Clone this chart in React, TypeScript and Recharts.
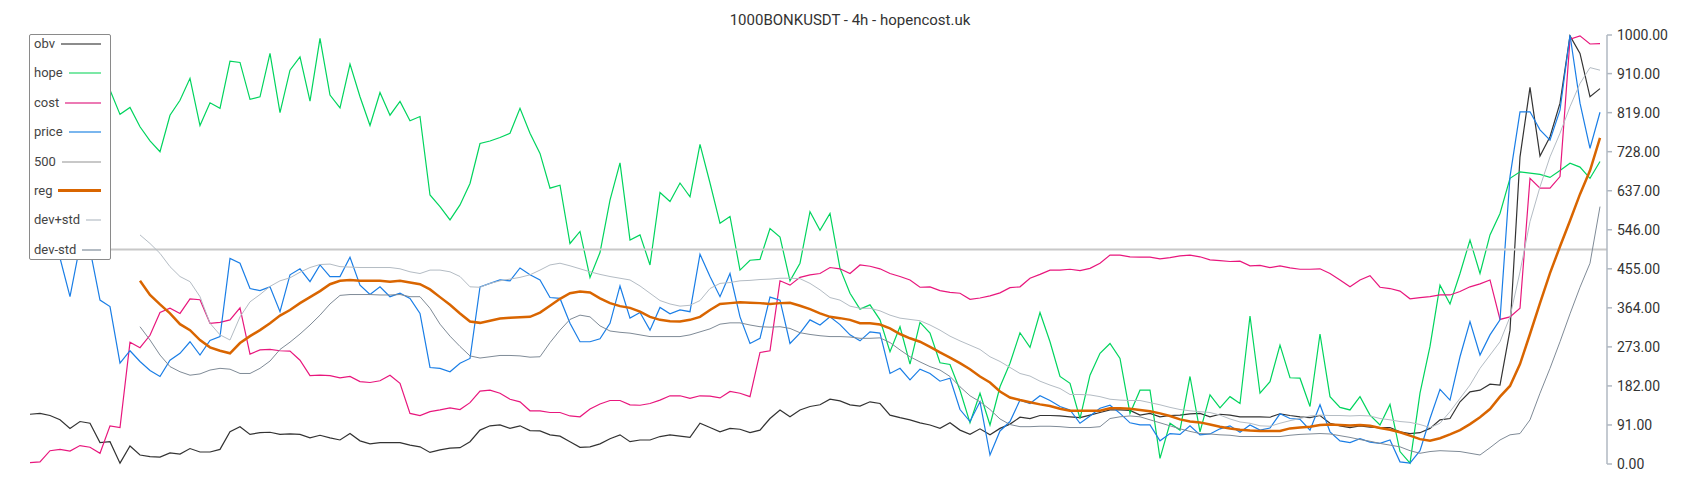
import { LineChart, Line, XAxis, YAxis, ReferenceLine } from "recharts";

// 4h candles, one sample every second bar
const obv = [
  116, 118, 113, 103, 83, 99, 95, 50, 52, 2, 42, 21, 17, 16, 26, 23, 36, 28, 28,
  34, 75, 87, 69, 73, 74, 69, 70, 69, 61, 67, 61, 56, 71, 54, 47, 50, 50, 50, 44,
  40, 27, 33, 37, 38, 52, 79, 89, 91, 83, 89, 78, 77, 68, 65, 52, 39, 40, 47, 59,
  68, 52, 56, 56, 64, 68, 65, 62, 95, 85, 75, 83, 81, 73, 79, 106, 126, 110, 126, 134,
  138, 151, 147, 138, 135, 145, 141, 114, 108, 103, 96, 91, 83, 96, 79, 69, 82, 68, 83, 93,
  109, 106, 113, 113, 112, 110, 108, 114, 120, 126, 126, 125, 114, 118, 110, 113, 114, 117, 118, 110,
  116, 114, 110, 110, 110, 109, 117, 113, 110, 108, 113, 95, 89, 85, 89, 86, 85, 85, 75, 71,
  73, 83, 103, 106, 145, 168, 172, 186, 184, 312, 716, 878, 718, 763, 841, 998, 957, 856, 875,
];

const hope = [
  880, 900, 860, 910, 870, 890, 905, 880, 872, 815, 831, 786, 753, 728, 813, 848, 899, 789, 842,
  829, 939, 936, 850, 856, 957, 819, 918, 949, 846, 992, 860, 830, 932, 856, 789, 866, 813, 845, 800,
  810, 627, 600, 569, 604, 654, 747, 753, 761, 771, 829, 771, 724, 643, 650, 514, 542, 435, 493, 615,
  702, 522, 534, 464, 633, 612, 655, 623, 745, 655, 561, 577, 452, 475, 477, 549, 529, 427, 468, 588,
  545, 584, 456, 398, 361, 371, 336, 262, 320, 233, 330, 305, 236, 232, 172, 96, 165, 91, 180, 235,
  306, 272, 353, 285, 204, 188, 106, 207, 258, 281, 246, 118, 172, 172, 13, 95, 79, 204, 75, 161,
  131, 157, 141, 345, 165, 192, 277, 201, 200, 134, 303, 157, 132, 126, 157, 114, 91, 139, 29, 2,
  165, 274, 417, 373, 444, 522, 444, 534, 584, 666, 681, 678, 675, 668, 684, 701, 692, 666, 705,
];

const cost = [
  3, 5, 31, 34, 30, 43, 39, 25, 89, 85, 284, 271, 300, 353, 363, 351, 385, 383, 328,
  330, 336, 364, 256, 266, 267, 264, 263, 242, 206, 207, 206, 201, 204, 192, 190, 194, 207, 188, 118,
  113, 122, 126, 131, 127, 143, 170, 172, 165, 151, 145, 124, 124, 120, 120, 112, 110, 128, 140, 148,
  148, 138, 137, 141, 149, 159, 159, 153, 159, 158, 154, 169, 165, 157, 260, 264, 427, 417, 435, 441,
  444, 458, 455, 444, 464, 461, 455, 444, 437, 429, 412, 413, 404, 400, 398, 384, 387, 392, 399, 411,
  413, 433, 442, 452, 452, 454, 451, 456, 468, 487, 487, 483, 482, 482, 478, 481, 485, 487, 483, 476,
  474, 472, 473, 462, 463, 458, 462, 457, 454, 454, 455, 444, 429, 413, 429, 439, 412, 409, 403, 385,
  388, 390, 394, 394, 402, 413, 420, 429, 337, 343, 363, 666, 643, 643, 670, 990, 998, 979, 980,
];

const price = [
  530, 540, 520, 480, 390, 510, 500, 382, 367, 235, 264, 239, 218, 204, 242, 258, 285, 254, 288,
  297, 479, 468, 409, 404, 413, 355, 441, 455, 425, 464, 437, 437, 482, 417, 395, 413, 390, 398, 386,
  351, 225, 223, 215, 235, 246, 413, 421, 429, 427, 457, 441, 429, 388, 386, 328, 285, 285, 292, 328,
  415, 340, 353, 312, 365, 350, 359, 355, 489, 437, 390, 444, 343, 281, 293, 389, 382, 281, 305, 336,
  324, 343, 325, 301, 287, 308, 305, 211, 223, 196, 221, 211, 193, 200, 127, 99, 145, 21, 77, 99,
  149, 141, 159, 148, 134, 126, 95, 112, 130, 137, 118, 96, 91, 91, 54, 71, 69, 89, 68, 70,
  82, 89, 74, 91, 79, 84, 117, 106, 104, 79, 138, 75, 54, 50, 59, 51, 48, 56, 5, 2,
  31, 106, 174, 149, 250, 332, 254, 301, 336, 670, 821, 821, 779, 755, 825, 1000, 841, 736, 820,
];

// regression and its bands start once enough bars exist
const BAND_START = 11;

const reg = [
  427, 394, 372, 351, 326, 312, 289, 272,
  264, 258, 282, 298, 312, 328, 346, 359, 375, 389, 403, 419, 427, 429, 427, 427, 427, 425, 427, 423,
  419, 407, 389, 371, 351, 332, 329, 334, 339, 341, 342, 343, 353, 369, 385, 398, 402, 400, 386, 375,
  368, 364, 355, 343, 336, 333, 332, 336, 343, 359, 373, 375, 377, 376, 375, 373, 375, 376, 369, 361,
  351, 343, 340, 336, 328, 328, 325, 316, 303, 293, 285, 273, 260, 248, 235, 221, 204, 190, 169, 155,
  149, 144, 139, 135, 129, 124, 124, 124, 124, 130, 130, 129, 126, 123, 118, 112, 104, 99, 97, 92,
  87, 83, 80, 78, 77, 77, 77, 83, 85, 87, 91, 92, 91, 90, 91, 89, 84, 80, 74, 66,
  58, 54, 60, 69, 79, 93, 109, 128, 157, 182, 233, 303, 375, 445, 507, 567, 629, 684, 760,
];

const devPlus = [
  534, 514, 491, 460, 437, 425, 390, 328,
  301, 289, 343, 378, 395, 414, 427, 434, 447, 458, 465, 466, 460, 459, 458, 458, 458, 458, 455, 448,
  444, 452, 452, 448, 437, 413, 412, 421, 427, 431, 435, 441, 452, 464, 468, 462, 455, 448, 442, 437,
  433, 429, 415, 398, 381, 373, 368, 370, 381, 409, 421, 423, 427, 428, 430, 431, 433, 433, 432, 421,
  406, 388, 382, 368, 363, 363, 357, 347, 340, 337, 334, 324, 312, 298, 287, 277, 267, 250, 239, 225,
  211, 205, 193, 184, 176, 162, 162, 161, 157, 151, 149, 148, 148, 143, 138, 132, 127, 124, 122, 120,
  114, 105, 98, 95, 89, 88, 95, 101, 106, 112, 114, 113, 113, 112, 113, 112, 106, 103, 99, 97,
  92, 85, 95, 122, 153, 184, 223, 254, 285, 343, 448, 565, 646, 716, 771, 833, 887, 924, 918,
];

const devMinus = [
  320, 289, 254, 227, 215, 207, 210, 219,
  223, 221, 211, 211, 223, 240, 267, 284, 303, 324, 347, 373, 393, 395, 395, 395, 394, 394, 395, 390,
  390, 363, 326, 298, 274, 252, 247, 250, 253, 253, 252, 249, 250, 283, 312, 337, 347, 343, 322, 310,
  307, 305, 301, 297, 297, 297, 297, 301, 308, 315, 326, 329, 329, 324, 320, 319, 320, 316, 306, 302,
  299, 297, 297, 296, 293, 293, 294, 283, 266, 250, 238, 227, 219, 204, 180, 159, 145, 127, 105, 92,
  87, 87, 88, 88, 87, 85, 85, 85, 87, 106, 110, 112, 110, 103, 96, 89, 82, 76, 71, 70,
  68, 67, 64, 64, 64, 64, 64, 67, 69, 70, 71, 70, 66, 62, 57, 53, 48, 44, 40, 31,
  25, 29, 31, 30, 29, 25, 21, 38, 56, 68, 71, 103, 165, 223, 285, 350, 412, 468, 600,
];

const LEVEL = 500;
const yTicks = [0, 91, 182, 273, 364, 455, 546, 637, 728, 819, 910, 1000];

const chartData = obv.map((v, k) => ({
  k,
  obv: v,
  hope: hope[k],
  cost: cost[k],
  price: price[k],
  reg: k < BAND_START ? null : reg[k - BAND_START],
  devPlus: k < BAND_START ? null : devPlus[k - BAND_START],
  devMinus: k < BAND_START ? null : devMinus[k - BAND_START],
}));

const legendItems = [
  { name: "obv", color: "#8c8c8c", w: 2 },
  { name: "hope", color: "#7ce8a6", w: 2 },
  { name: "cost", color: "#ec7ab4", w: 2 },
  { name: "price", color: "#7ab6ee", w: 2 },
  { name: "500", color: "#c8c8c8", w: 2 },
  { name: "reg", color: "#d96500", w: 3 },
  { name: "dev+std", color: "#d3d8dd", w: 2 },
  { name: "dev-std", color: "#b3bbc3", w: 2 },
];

const font = "Roboto, sans-serif";

const ChartLegend = () => (
  <div
    style={{
      position: "absolute",
      left: 29,
      top: 34,
      width: 82,
      height: 226,
      boxSizing: "border-box",
      border: "1.5px solid #8a8a8a",
      borderRadius: 2,
      background: "#fff",
      padding: "0 9px 0 4px",
      fontFamily: font,
      fontSize: 13,
      color: "#444",
    }}
  >
    {legendItems.map((it) => (
      <div
        key={it.name}
        style={{ display: "flex", alignItems: "center", height: 18, marginBottom: 11.4 }}
      >
        <span style={{ lineHeight: "18px" }}>{it.name}</span>
        <span style={{ flex: 1, height: it.w, background: it.color, marginLeft: 6 }} />
      </div>
    ))}
  </div>
);

const App = () => {
  return (
    <div style={{ position: "absolute", left: 0, top: 0, width: 1700, height: 500, background: "#fff" }}>
      <div
        style={{
          position: "absolute",
          left: 0,
          top: 10,
          width: 1700,
          textAlign: "center",
          fontFamily: font,
          fontSize: 15,
          lineHeight: "20px",
          color: "#333",
        }}
      >
        1000BONKUSDT - 4h - hopencost.uk
      </div>
      <LineChart
        width={1700}
        height={500}
        data={chartData}
        margin={{ top: 35, right: 13, bottom: 36, left: 30 }}
      >
        <XAxis dataKey="k" hide padding={{ left: 0, right: 7 }} />
        <YAxis
          orientation="right"
          width={80}
          domain={[0, 1000]}
          ticks={yTicks}
          interval={0}
          tickFormatter={(v: number) => v.toFixed(2)}
          axisLine={{ stroke: "#b0b8c2", strokeWidth: 1.5 }}
          tickLine={{ stroke: "#b0b8c2", strokeWidth: 1.5 }}
          tickSize={5}
          tickMargin={5}
          tick={{ fill: "#333", fontSize: 14, fontFamily: font }}
        />
        <Line dataKey="obv" stroke="#333333" strokeWidth={1.2} dot={false} activeDot={false} isAnimationActive={false} />
        <Line dataKey="hope" stroke="#00d45e" strokeWidth={1.2} dot={false} activeDot={false} isAnimationActive={false} />
        <Line dataKey="cost" stroke="#e8177d" strokeWidth={1.2} dot={false} activeDot={false} isAnimationActive={false} />
        <Line dataKey="price" stroke="#1a7ee6" strokeWidth={1.2} dot={false} activeDot={false} isAnimationActive={false} />
        <ReferenceLine y={LEVEL} stroke="#c8c8c8" strokeWidth={2} />
        <Line dataKey="reg" stroke="#d96500" strokeWidth={2.5} dot={false} activeDot={false} isAnimationActive={false} />
        <Line dataKey="devPlus" stroke="#b4bcc4" strokeWidth={1} dot={false} activeDot={false} isAnimationActive={false} />
        <Line dataKey="devMinus" stroke="#7f8b97" strokeWidth={1} dot={false} activeDot={false} isAnimationActive={false} />
      </LineChart>
      <ChartLegend />
    </div>
  );
};

export default App;
